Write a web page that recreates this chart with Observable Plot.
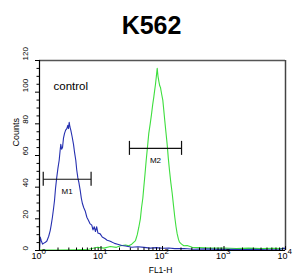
<!DOCTYPE html>
<html>
<head>
<meta charset="utf-8">
<script src="https://cdn.jsdelivr.net/npm/d3@7"></script>
<script src="https://cdn.jsdelivr.net/npm/@observablehq/plot@0.6"></script>
<style>
  html, body { margin: 0; padding: 0; background: #fff; }
  #chart svg { display: block; }
</style>
</head>
<body>
<div id="chart"></div>
<script>
// ---- data (x in decades of FL1-H, i.e. log10 value; y = counts) ----
const title = "K562";
const xLabel = "FL1-H";
const yLabel = "Counts";
const sampleLabel = "control";

const controlLog = [0.0,0.012,0.03,0.05,0.065,0.09,0.12,0.15,0.174,0.19,0.21,0.23,0.244,0.26,0.28,0.30,0.32,0.335,0.346,0.36,0.374,0.39,0.407,0.425,0.444,0.46,0.47,0.483,0.495,0.509,0.53,0.553,0.57,0.59,0.605,0.623,0.64,0.662,0.68,0.699,0.72,0.743,0.77,0.797,0.82,0.85,0.87,0.89,0.91,0.93,0.95,0.987,1.02,1.068,1.1,1.14,1.176,1.22,1.27,1.338,1.4,1.5,1.6,1.7,1.8,1.9,2.0,2.1,2.2,2.35,2.5,2.7,2.9,3.1,3.3,3.5,3.7,3.9,3.98,4.0];
const controlCounts = [1,8.5,6,4,4.5,5,6,9,12.6,16,21,27,31.6,39,46,52,57,63,67,64,65,71,74,76,77,79,77,81,78,76,72,67,62,57,51,46,43,38,33,29.5,27,25,21,19,17,16,13,15,12,15,11,10.5,8.5,7.4,6.5,6,5.3,4.5,4,3.2,2.8,2.1,2.4,2,1.5,1.8,1.4,1.6,1.2,1.3,0.8,1,0.7,0.8,0.6,0.7,0.5,0.6,1.5,0.5];

const sampleLog = [0,0.3,0.6,0.8,0.943,1.05,1.15,1.25,1.32,1.4,1.452,1.5,1.561,1.59,1.615,1.64,1.659,1.68,1.696,1.715,1.735,1.755,1.777,1.80,1.821,1.84,1.859,1.872,1.886,1.90,1.914,1.927,1.94,1.955,1.967,1.985,2.005,2.02,2.037,2.055,2.076,2.095,2.114,2.135,2.158,2.18,2.2,2.22,2.239,2.26,2.276,2.31,2.346,2.4,2.483,2.6,2.8,3.0,3.2,3.4,3.6,3.8,4.0];
const sampleCounts = [0.3,0.3,0.5,0.8,2,1.5,2.5,2,3,3.5,3,4,6.3,10,14.7,20,27,33,40,48,57,65,74,80,86,92,97,101,105,110,115,110,107,104,103,99,95,89,82,75,67,58,50.5,43,36,28,21,15,10.5,7,5.3,4,3,3.2,2,1.8,1.5,1.6,1.3,1.5,1.2,1.4,1.2];

// gate markers
const markerNames = ["M1", "M2"];
const markerLo = [1.15, 29];
const markerHi = [6.9, 204];
const markerCount = [45, 64.5];

// axis ticks
const xMajor = [1, 10, 100, 1000, 10000];
const xExponents = ["0", "1", "2", "3", "4"];
const yMajor = [0, 20, 40, 60, 80, 100, 120];
const yMinor = d3.range(0, 121, 5).filter(v => v % 20 !== 0);
const xMinor = [];
for (let e = 0; e < 4; e++) for (let k = 2; k <= 9; k++) xMinor.push(k * 10 ** e);

// ---- build tables ----
const control = controlLog.map((l, i) => ({x: 10 ** l, y: controlCounts[i]}));
const sample = sampleLog.map((l, i) => ({x: 10 ** l, y: sampleCounts[i]}));
const markers = markerNames.map((n, i) => ({name: n, lo: markerLo[i], hi: markerHi[i], y: markerCount[i], mid: Math.sqrt(markerLo[i] * markerHi[i])}));
const xTickData = xMajor.map((v, i) => ({v, e: xExponents[i]}));

const font = "Liberation Sans, Arial, sans-serif";

const chart = Plot.plot({
  width: 306,
  height: 280,
  marginLeft: 39,
  marginRight: 21,
  marginTop: 60,
  marginBottom: 30,
  style: {fontFamily: font, background: "#fff", overflow: "visible"},
  x: {type: "log", domain: [1, 10000], axis: null},
  y: {domain: [0, 120], axis: null},
  marks: [
    // frame
    Plot.ruleY([120], {stroke: "#555", strokeWidth: 1.5}),
    Plot.ruleX([10000], {stroke: "#444", strokeWidth: 1.5}),
    // histograms
    Plot.line(sample, {x: "x", y: "y", stroke: "#3ede3e", strokeWidth: 1.1}),
    Plot.line(control, {x: "x", y: "y", stroke: "#2630b0", strokeWidth: 1.1}),
    Plot.ruleY([0], {stroke: "#000", strokeWidth: 1.2}),
    Plot.ruleX([1], {stroke: "#000", strokeWidth: 1.2}),
    // y axis ticks
    Plot.axisY({ticks: yMajor, tickSize: 4, text: null, label: null, stroke: "#000"}),
    Plot.axisY({ticks: yMinor, tickSize: 2.5, text: null, label: null, stroke: "#000"}),
    Plot.text(yMajor, {y: d => d, text: d => String(d), frameAnchor: "left", dx: -14, rotate: -90, fontSize: 8, fill: "#000"}),
    Plot.text([yLabel], {frameAnchor: "left", dx: -23, dy: -9, rotate: -90, fontSize: 9, fill: "#000"}),
    // x axis ticks (inward)
    Plot.ruleX(xMajor, {x: d => d, y1: 0, y2: 0, insetTop: -4, stroke: "#000"}),
    Plot.ruleX(xMinor, {x: d => d, y1: 0, y2: 0, insetTop: -2.5, stroke: "#000"}),
    Plot.text(xTickData, {x: "v", text: () => "10", frameAnchor: "bottom", dy: 8.5, dx: -3, fontSize: 9, fill: "#000"}),
    Plot.text(xTickData, {x: "v", text: "e", frameAnchor: "bottom", dy: 3.5, dx: 2, textAnchor: "start", fontSize: 8, fill: "#000"}),
    Plot.text([xLabel], {frameAnchor: "bottom", dx: -2, dy: 22, fontSize: 8.5, fill: "#000"}),
    // gate markers
    Plot.link(markers, {x1: "lo", x2: "hi", y1: "y", y2: "y", stroke: "#111", strokeWidth: 1.2}),
    Plot.ruleX(markers, {x: "lo", y1: "y", y2: "y", insetTop: -7, insetBottom: -7, stroke: "#111", strokeWidth: 1.2}),
    Plot.ruleX(markers, {x: "hi", y1: "y", y2: "y", insetTop: -7, insetBottom: -7, stroke: "#111", strokeWidth: 1.2}),
    Plot.text(markers, {x: "mid", y: "y", text: "name", dy: 12, fontSize: 8, fill: "#000"}),
    // labels
    Plot.text([sampleLabel], {frameAnchor: "top-left", dx: 14, dy: 21, textAnchor: "start", fontSize: 11.5, fill: "#000"}),
    Plot.text([title], {frameAnchor: "top", dx: -11, dy: -44, fontSize: 25, fontWeight: "bold", fill: "#000"})
  ]
});
document.getElementById("chart").append(chart);
</script>
</body>
</html>
